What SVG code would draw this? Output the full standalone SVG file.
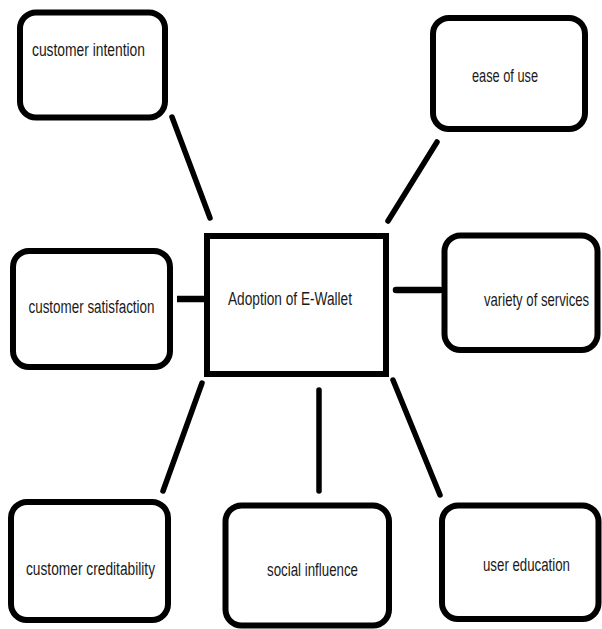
<svg xmlns="http://www.w3.org/2000/svg" width="602" height="629" viewBox="0 0 602 629">
<style>
.box{fill:#fff;stroke:#000;stroke-width:6}
.lbl{font-family:"Liberation Sans",Arial,sans-serif;font-size:18px;fill:#1a1a1a}
.con{stroke:#000;stroke-width:5.5;stroke-linecap:round;fill:none}
</style>
<rect width="602" height="629" fill="#fff"/>
<g id="connectors">
<line class="con" x1="172" y1="117" x2="210" y2="218"/>
<line class="con" x1="437" y1="142" x2="388" y2="221"/>
<line class="con" x1="177" y1="299" x2="204" y2="299" style="stroke-width:6.5;stroke-linecap:butt"/>
<line class="con" x1="396" y1="290" x2="440" y2="290" style="stroke-width:6.5"/>
<line class="con" x1="202" y1="383" x2="163" y2="491"/>
<line class="con" x1="319" y1="390" x2="319" y2="491"/>
<line class="con" x1="393" y1="380" x2="440" y2="495"/>
</g>
<g id="customer-intention">
<rect class="box" x="20" y="12.5" width="145" height="105" rx="16"/>
<text class="lbl" x="32" y="56" textLength="113" lengthAdjust="spacingAndGlyphs">customer intention</text>
</g>
<g id="ease-of-use">
<rect class="box" x="433" y="18" width="152" height="111" rx="16"/>
<text class="lbl" x="472" y="82" textLength="66" lengthAdjust="spacingAndGlyphs">ease of use</text>
</g>
<g id="customer-satisfaction">
<rect class="box" x="13" y="251" width="157" height="116" rx="16"/>
<text class="lbl" x="28.5" y="313" textLength="126" lengthAdjust="spacingAndGlyphs">customer satisfaction</text>
</g>
<g id="adoption">
<rect class="box" x="207" y="236" width="179" height="138"/>
<text class="lbl" x="228" y="305" textLength="124" lengthAdjust="spacingAndGlyphs">Adoption of E-Wallet</text>
</g>
<g id="variety-of-services">
<rect class="box" x="444.5" y="235.5" width="153" height="114.5" rx="16"/>
<text class="lbl" transform="translate(484 306) scale(0.73 1)">variety of services</text>
</g>
<g id="customer-creditability">
<rect class="box" x="11" y="502" width="157" height="118" rx="16"/>
<text class="lbl" x="26" y="575" textLength="129" lengthAdjust="spacingAndGlyphs">customer creditability</text>
</g>
<g id="social-influence">
<rect class="box" x="225.5" y="505.5" width="163.5" height="120" rx="16"/>
<text class="lbl" x="267" y="576" textLength="91" lengthAdjust="spacingAndGlyphs">social influence</text>
</g>
<g id="user-education">
<rect class="box" x="442" y="505.5" width="156.5" height="113.5" rx="16"/>
<text class="lbl" x="483" y="571" textLength="87" lengthAdjust="spacingAndGlyphs">user education</text>
</g>
</svg>
